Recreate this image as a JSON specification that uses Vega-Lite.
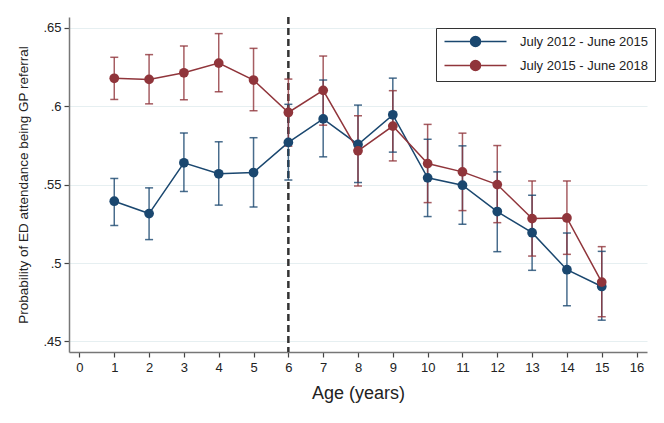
{
  "$schema": "https://vega.github.io/schema/vega-lite/v6.json",
  "width": 578,
  "height": 335,
  "autosize": "none",
  "padding": {"left": 69, "top": 17, "right": 17, "bottom": 71},
  "background": "white",
  "config": {
    "view": {"stroke": null},
    "font": "Liberation Sans",
    "axis": {"labelFont": "Liberation Sans", "titleFont": "Liberation Sans", "labelColor": "#222", "titleColor": "#222"},
    "legend": {"labelFont": "Liberation Sans"}
  },
  "datasets": {
    "cut": [{"age": 6}],
    "est": [
      {"period": "July 2012 - June 2015", "age": 1, "p": 0.5395, "lo": 0.524, "hi": 0.554},
      {"period": "July 2012 - June 2015", "age": 2, "p": 0.5316, "lo": 0.515, "hi": 0.548},
      {"period": "July 2012 - June 2015", "age": 3, "p": 0.564, "lo": 0.5457, "hi": 0.583},
      {"period": "July 2012 - June 2015", "age": 4, "p": 0.557, "lo": 0.537, "hi": 0.5774},
      {"period": "July 2012 - June 2015", "age": 5, "p": 0.5578, "lo": 0.5358, "hi": 0.58},
      {"period": "July 2012 - June 2015", "age": 6, "p": 0.577, "lo": 0.553, "hi": 0.6013},
      {"period": "July 2012 - June 2015", "age": 7, "p": 0.592, "lo": 0.5678, "hi": 0.6168},
      {"period": "July 2012 - June 2015", "age": 8, "p": 0.5757, "lo": 0.5514, "hi": 0.6008},
      {"period": "July 2012 - June 2015", "age": 9, "p": 0.5946, "lo": 0.5708, "hi": 0.618},
      {"period": "July 2012 - June 2015", "age": 10, "p": 0.5544, "lo": 0.5297, "hi": 0.579},
      {"period": "July 2012 - June 2015", "age": 11, "p": 0.5497, "lo": 0.5248, "hi": 0.5748},
      {"period": "July 2012 - June 2015", "age": 12, "p": 0.5329, "lo": 0.5073, "hi": 0.5582},
      {"period": "July 2012 - June 2015", "age": 13, "p": 0.5194, "lo": 0.4954, "hi": 0.5433},
      {"period": "July 2012 - June 2015", "age": 14, "p": 0.4958, "lo": 0.4728, "hi": 0.5192},
      {"period": "July 2012 - June 2015", "age": 15, "p": 0.4851, "lo": 0.4636, "hi": 0.5075},
      {"period": "July 2015 - June 2018", "age": 1, "p": 0.6179, "lo": 0.6044, "hi": 0.6313},
      {"period": "July 2015 - June 2018", "age": 2, "p": 0.6172, "lo": 0.6016, "hi": 0.633},
      {"period": "July 2015 - June 2018", "age": 3, "p": 0.6214, "lo": 0.6042, "hi": 0.6385},
      {"period": "July 2015 - June 2018", "age": 4, "p": 0.6276, "lo": 0.6093, "hi": 0.6464},
      {"period": "July 2015 - June 2018", "age": 5, "p": 0.6168, "lo": 0.5972, "hi": 0.637},
      {"period": "July 2015 - June 2018", "age": 6, "p": 0.5961, "lo": 0.5746, "hi": 0.6174},
      {"period": "July 2015 - June 2018", "age": 7, "p": 0.6102, "lo": 0.588, "hi": 0.6321},
      {"period": "July 2015 - June 2018", "age": 8, "p": 0.5716, "lo": 0.5492, "hi": 0.594},
      {"period": "July 2015 - June 2018", "age": 9, "p": 0.5874, "lo": 0.5652, "hi": 0.61},
      {"period": "July 2015 - June 2018", "age": 10, "p": 0.5635, "lo": 0.5386, "hi": 0.5885},
      {"period": "July 2015 - June 2018", "age": 11, "p": 0.5582, "lo": 0.5335, "hi": 0.5829},
      {"period": "July 2015 - June 2018", "age": 12, "p": 0.5501, "lo": 0.5258, "hi": 0.575},
      {"period": "July 2015 - June 2018", "age": 13, "p": 0.5284, "lo": 0.5045, "hi": 0.5524},
      {"period": "July 2015 - June 2018", "age": 14, "p": 0.5288, "lo": 0.5056, "hi": 0.5524},
      {"period": "July 2015 - June 2018", "age": 15, "p": 0.4879, "lo": 0.4658, "hi": 0.5105}
    ]
  },
  "encoding": {
    "x": {
      "field": "age", "type": "quantitative",
      "scale": {"domain": [-0.3, 16.3], "nice": false, "zero": false},
      "axis": {
        "title": "Age (years)", "values": [0,1,2,3,4,5,6,7,8,9,10,11,12,13,14,15,16], "tickCount": 17, "labelOverlap": false,
        "grid": false, "domainColor": "#777", "domainWidth": 1.5, "tickColor": "#444", "tickSize": 5, "tickWidth": 1.2,
        "labelFontSize": 13, "labelPadding": 4, "titleFontSize": 18, "titleFontWeight": "normal", "titlePadding": 10
      }
    }
  },
  "layer": [
    {
      "data": {"name": "cut"},
      "mark": {"type": "rule", "color": "#333333", "strokeWidth": 2.5, "strokeDash": [7, 4]},
      "encoding": {}
    },
    {
      "data": {"name": "est"},
      "layer": [
        {
          "mark": {"type": "rule", "strokeWidth": 1.5, "opacity": 0.8},
          "encoding": {
            "y": {"field": "lo", "type": "quantitative"},
            "y2": {"field": "hi"},
            "color": {"field": "period", "type": "nominal"}
          }
        },
        {
          "mark": {"type": "tick", "orient": "horizontal", "size": 8, "thickness": 1.5, "opacity": 0.8},
          "encoding": {
            "y": {"field": "lo", "type": "quantitative"},
            "color": {"field": "period", "type": "nominal"}
          }
        },
        {
          "mark": {"type": "tick", "orient": "horizontal", "size": 8, "thickness": 1.5, "opacity": 0.8},
          "encoding": {
            "y": {"field": "hi", "type": "quantitative"},
            "color": {"field": "period", "type": "nominal"}
          }
        },
        {
          "mark": {"type": "line", "strokeWidth": 1.5, "point": {"filled": true, "size": 95, "opacity": 1}},
          "encoding": {
            "y": {
              "field": "p", "type": "quantitative",
              "scale": {"domain": [0.4433, 0.657], "nice": false, "zero": false},
              "axis": {
                "title": "Probability of ED attendance being GP referral",
                "values": [0.45, 0.5, 0.55, 0.6, 0.65],
                "labelExpr": "replace(format(datum.value, '.2~f'), '0.', '.')",
                "grid": true, "gridColor": "#e6eff1", "gridWidth": 1.2,
                "domainColor": "#777", "domainWidth": 1.5, "tickColor": "#444", "tickSize": 5, "tickWidth": 1.2,
                "labelFontSize": 13, "labelPadding": 3, "titleFontSize": 13.5, "titleFontWeight": "normal", "titlePadding": 12
              }
            },
            "color": {
              "field": "period", "type": "nominal",
              "scale": {"domain": ["July 2012 - June 2015", "July 2015 - June 2018"], "range": ["#1a476f", "#90353b"]},
              "legend": {
                "title": null, "orient": "none", "legendX": 367, "legendY": 11,
                "strokeColor": "#333", "fillColor": "white", "padding": 7,
                "symbolType": "M-1,0H11.4M4.2,0A1,1,0,1,1,6.2,0A1,1,0,1,1,4.2,0Z",
                "symbolSize": 100, "symbolStrokeWidth": 1.5,
                "labelFontSize": 13, "labelOffset": 64, "rowPadding": 7, "labelColor": "#222",
                "encode": {"symbols": {"update": {"fill": {"scale": "color", "field": "value"}, "stroke": {"scale": "color", "field": "value"}, "opacity": {"value": 1}}}}
              }
            }
          }
        }
      ]
    }
  ]
}
